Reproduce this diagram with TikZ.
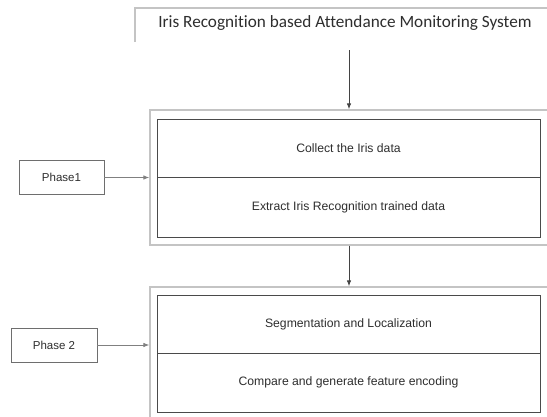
\documentclass[tikz,border=0pt]{standalone}
\usepackage{fontspec}
\setmainfont{Liberation Sans}
\newfontfamily\titlefont[Ligatures=NoCommon]{Carlito}
\usetikzlibrary{arrows.meta}
\definecolor{darkline}{HTML}{4A4A4A}
\definecolor{lightline}{HTML}{C4C4C4}
\definecolor{txt}{HTML}{2E2E2E}
\begin{document}
\begin{tikzpicture}[x=1pt,y=-1pt,
  outerbox/.style={draw=lightline,line width=1.3pt,rectangle,inner sep=0pt},
  innerbox/.style={draw=darkline,line width=1pt,rectangle,inner sep=0pt,text=txt,font=\fontsize{12.2}{14}\selectfont},
  phasebox/.style={draw=darkline!80,line width=0.9pt,rectangle,inner sep=0pt,text=txt,font=\fontsize{11.5}{13}\selectfont},
  flow/.style={draw=darkline!90!black,line width=0.9pt,-{Latex[length=6pt,width=4.5pt]}},
  side/.style={draw=gray,line width=0.8pt,-{Latex[length=6pt,width=4.5pt]}}]
\clip (0,0) rectangle (547,416);
\fill[white] (0,0) rectangle (547,416);
% title
\draw[lightline,line width=1.2pt] (135,42) -- (135,8) -- (560,8);
\node[text=txt,font=\titlefont\fontsize{17.2}{19}\selectfont] (title) at (345,23) {Iris Recognition based Attendance Monitoring System};
\coordinate (tstart) at (349,50);
% phase 1 group
\node[outerbox,minimum width=410pt,minimum height=135pt] (outer1) at (355,177.5) {};
\node[innerbox,minimum width=383pt,minimum height=58pt] (c1) at (348.5,148) {Collect the Iris data};
\node[innerbox,minimum width=383pt,minimum height=60pt] (c2) at (348.5,207) {Extract Iris Recognition trained data};
% phase 2 group
\node[outerbox,minimum width=410pt,minimum height=133pt] (outer2) at (355,353.5) {};
\node[innerbox,minimum width=383pt,minimum height=58pt] (c3) at (348.5,324) {Segmentation and Localization};
\node[innerbox,minimum width=383pt,minimum height=59pt] (c4) at (348.5,382.5) {Compare and generate feature encoding};
% phase labels
\node[phasebox,minimum width=85pt,minimum height=34pt] (p1) at (61.5,177.5) {Phase1};
\node[phasebox,minimum width=86pt,minimum height=34pt] (p2) at (54,345) {Phase 2};
% connectors
\draw[flow] (tstart) -- (tstart |- outer1.north);
\draw[flow] (outer1.south -| tstart) -- (outer2.north -| tstart);
\draw[side] (p1.east) -- (p1.east -| outer1.west);
\draw[side] (p2.east) -- (p2.east -| outer2.west);
\end{tikzpicture}
\end{document}
